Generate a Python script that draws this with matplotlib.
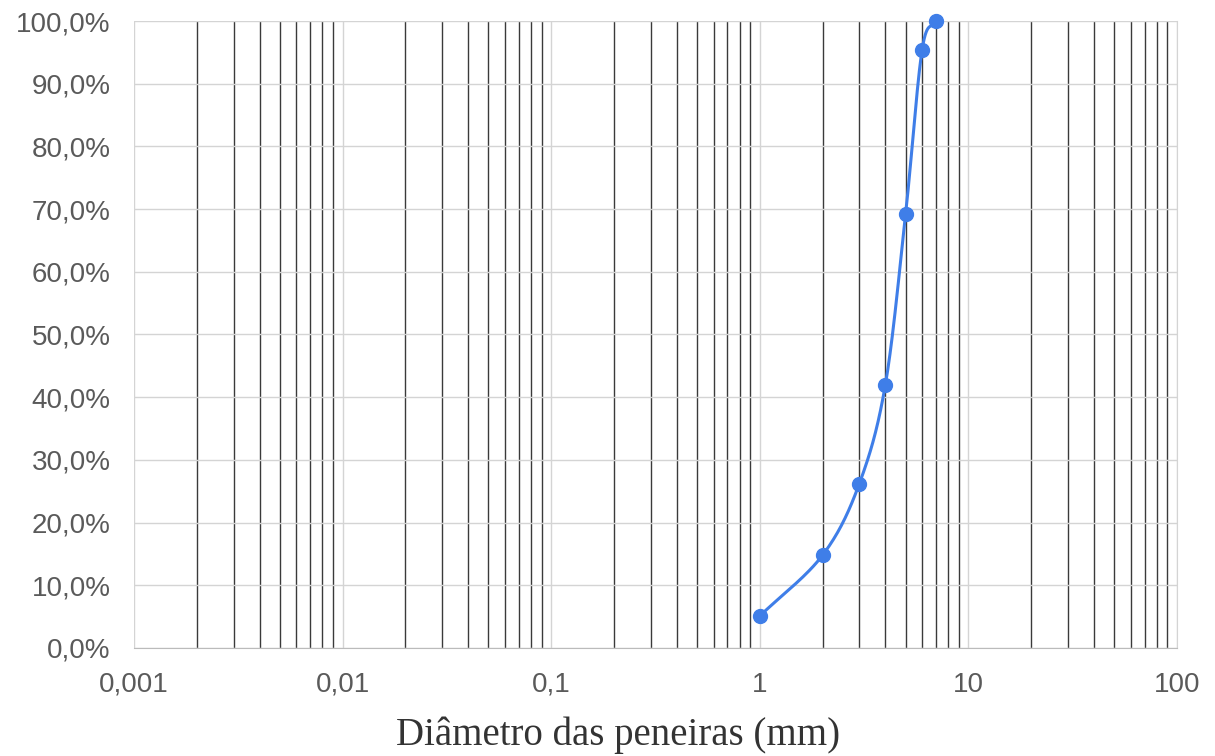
import numpy as np
import matplotlib
matplotlib.use("Agg")
import matplotlib.pyplot as plt
from matplotlib.ticker import FuncFormatter, LogLocator, NullFormatter

diametros = [1, 2, 3, 4, 5, 6, 7]
passante = [5.1, 14.8, 26.2, 42.0, 69.2, 95.4, 100.0]
x_ticks = [0.001, 0.01, 0.1, 1, 10, 100]
x_tick_labels = ["0,001", "0,01", "0,1", "1", "10", "100"]
y_ticks = list(range(0, 101, 10))
x_label = "Diâmetro das peneiras (mm)"

fig = plt.figure(figsize=(12.15, 7.56), dpi=100)
ax = fig.add_axes([0.1103, 0.1429, 0.8584, 0.8293])
ax.set_xscale("log")
ax.set_xlim(0.001, 100)
ax.set_ylim(0, 100)

# smooth curve (Catmull-Rom in log-x space)
lx = np.log10(diametros)
py = np.array(passante)
P = np.column_stack([lx, py])
Pext = np.vstack([2 * P[0] - P[1], P, 2 * P[-1] - P[-2]])
curve = []
for i in range(1, len(Pext) - 2):
    p0, p1, p2, p3 = Pext[i - 1], Pext[i], Pext[i + 1], Pext[i + 2]
    t = np.linspace(0, 1, 30)[:, None]
    seg = 0.5 * ((2 * p1) + (-p0 + p2) * t + (2 * p0 - 5 * p1 + 4 * p2 - p3) * t ** 2
                 + (-p0 + 3 * p1 - 3 * p2 + p3) * t ** 3)
    curve.append(seg)
curve = np.vstack(curve)
blue = "#3f7ee8"
ax.plot(10 ** curve[:, 0], curve[:, 1], color=blue, lw=2.2, zorder=4, clip_on=False)
ax.plot(diametros, passante, "o", color=blue, ms=10, zorder=5, clip_on=False)

ax.xaxis.set_major_locator(LogLocator(base=10, numticks=10))
ax.xaxis.set_minor_locator(LogLocator(base=10, subs=np.arange(2, 10), numticks=100))
ax.xaxis.set_minor_formatter(NullFormatter())
ax.set_xticks(x_ticks)
ax.set_xticklabels(x_tick_labels)
ax.set_yticks(y_ticks)
ax.yaxis.set_major_formatter(FuncFormatter(lambda v, p: f"{v:.1f}%".replace(".", ",")))

ax.grid(True, which="major", axis="both", color="#d4d4d4", lw=1.0)
ax.grid(True, which="minor", axis="x", color="#3a3a3a", lw=1.0)
ax.set_axisbelow(True)

for s in ["top", "left"]:
    ax.spines[s].set_visible(False)
ax.spines["right"].set_color("#d4d4d4")
ax.spines["bottom"].set_color("#bbbbbb")
ax.tick_params(which="both", length=0)
ax.tick_params(axis="both", labelsize=20, labelcolor="#5a5a5a")
ax.tick_params(axis="x", pad=17)
ax.tick_params(axis="y", pad=17)
for lab in ax.get_xticklabels() + ax.get_yticklabels():
    lab.set_family("Liberation Sans")

ax.set_xlabel(x_label, family="Liberation Serif", fontsize=28, color="#333333")
ax.xaxis.set_label_coords(0.464, -0.139)
ax.xaxis.label.set_va("center")

fig.savefig("out.png", dpi=100)
